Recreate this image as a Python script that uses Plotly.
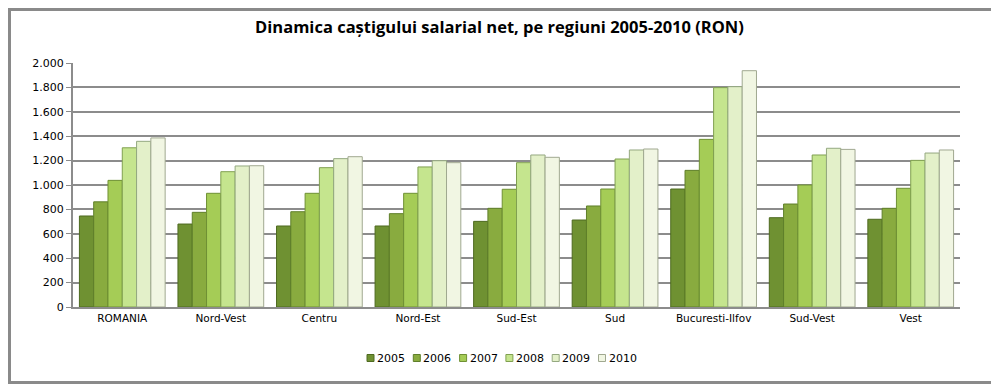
import plotly.graph_objects as go

regions = ["ROMANIA", "Nord-Vest", "Centru", "Nord-Est", "Sud-Est", "Sud",
           "Bucuresti-Ilfov", "Sud-Vest", "Vest"]
years = ["2005", "2006", "2007", "2008", "2009", "2010"]

v2005 = [746, 680, 664, 664, 702, 713, 967, 732, 719]
v2006 = [862, 776, 781, 765, 809, 828, 1120, 844, 809]
v2007 = [1038, 932, 932, 932, 965, 967, 1374, 1000, 973]
v2008 = [1305, 1109, 1142, 1148, 1183, 1213, 1798, 1246, 1202]
v2009 = [1358, 1156, 1216, 1199, 1246, 1287, 1806, 1301, 1262]
v2010 = [1386, 1158, 1232, 1183, 1227, 1295, 1937, 1292, 1287]

series = [v2005, v2006, v2007, v2008, v2009, v2010]
colors = ["#6f9132", "#89ab3f", "#a5cc56", "#c5e58e", "#e3f0c9", "#f1f6e3"]
outlines = ["#4e6a20", "#5f7f2a", "#6f9034", "#80a050", "#94a880", "#a0a890"]

fig = go.Figure()
for name, vals, c, oc in zip(years, series, colors, outlines):
    fig.add_trace(go.Bar(x=regions, y=vals, name=name, showlegend=False,
                         marker=dict(color=c, line=dict(color=oc, width=1))))

# page offset (body margin) compensation
OFF = 8
W, H = 999 - OFF, 384 - OFF
# plot area in page pixels: x 73..960, y 63..307
L, R, T, B = 73 - OFF, 999 - 960, 63 - OFF, 384 - 307
pw, ph = 960 - 73, 307 - 63
def px(x):
    return (x - 73) / pw
def py(y):
    return (307 - y) / ph

# outer frame
fig.add_shape(type="rect", xref="paper", yref="paper",
              x0=px(OFF + 1.5), x1=px(997.5), y0=py(382.5), y1=py(OFF + 1.5),
              line=dict(color="#8a8a8a", width=3), fillcolor="rgba(0,0,0,0)",
              layer="above")

# legend (compact, like the original)
leg_x0, leg_step, leg_y, sq = 367, 46.3, 358, 7
for i, (name, c, oc) in enumerate(zip(years, colors, outlines)):
    x0 = leg_x0 + i * leg_step
    fig.add_shape(type="rect", xref="paper", yref="paper",
                  x0=px(x0), x1=px(x0 + sq), y0=py(leg_y + sq / 2), y1=py(leg_y - sq / 2),
                  line=dict(color=oc, width=1), fillcolor=c)
    fig.add_annotation(xref="paper", yref="paper", x=px(x0 + sq + 1), y=py(leg_y),
                       text=name, showarrow=False, xanchor="left", yanchor="middle",
                       font=dict(family="DejaVu Sans", size=11, color="black"))

fig.update_layout(
    width=W, height=H,
    margin=dict(l=L, r=R, t=T, b=B, autoexpand=False),
    paper_bgcolor="white", plot_bgcolor="white",
    separators=",.",
    barmode="group", bargap=0.13, bargroupgap=0,
    title=dict(text="<b>Dinamica caștigului salarial net, pe regiuni 2005-2010 (RON)</b>",
               x=(499.5 - OFF) / W, xref="container", xanchor="center",
               y=1 - (27 - OFF) / H, yref="container", yanchor="middle",
               font=dict(family="Open Sans", size=16.5, color="black")),
    xaxis=dict(showgrid=False, showline=True, linecolor="#8c8c8c", linewidth=2,
               ticks="", tickfont=dict(family="DejaVu Sans", size=10.5, color="black")),
    yaxis=dict(range=[0, 2000], dtick=200, tickformat=",d",
               showgrid=True, gridcolor="#8c8c8c", gridwidth=2,
               showline=True, linecolor="#8c8c8c", linewidth=2,
               ticks="outside", ticklen=5, tickcolor="#8c8c8c", tickwidth=1,
               zeroline=False,
               tickfont=dict(family="DejaVu Sans", size=11, color="black")),
    showlegend=False,
)

fig.write_html("out.html")
